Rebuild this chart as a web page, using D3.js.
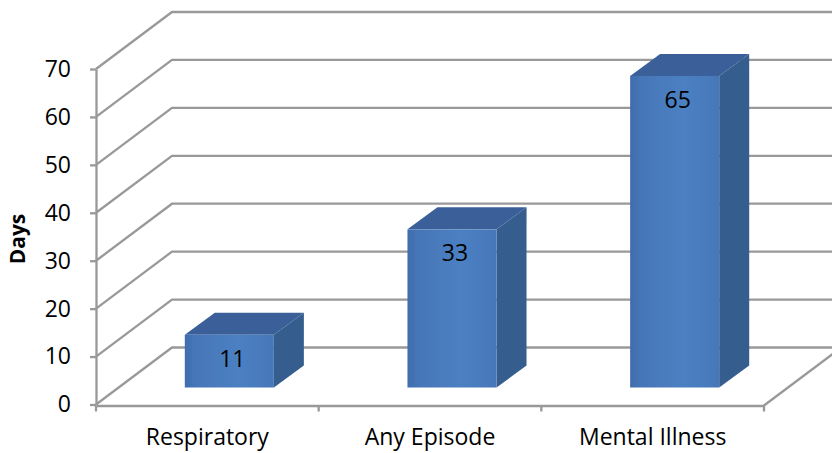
<!DOCTYPE html>
<html>
<head>
<meta charset="utf-8">
<script src="https://cdn.jsdelivr.net/npm/d3@7"></script>
<style>
  html, body { margin: 0; padding: 0; background: #fff; }
  svg { display: block; }
  text { font-family: "Open Sans", Lato, sans-serif; fill: #000; }
</style>
</head>
<body>
<script>
const categories = ["Respiratory", "Any Episode", "Mental Illness"];
const days = [11, 33, 65];
const yTicks = [0, 10, 20, 30, 40, 50, 60, 70];

const width = 832, height = 453;
const wallDx = 76, wallDy = -57;     // shift from the front plane to the back wall
const barInsetDx = 22, barInsetDy = -17;
const barDepthDx = 30, barDepthDy = -22;

const svg = d3.select("body").append("svg")
  .attr("width", width)
  .attr("height", height);

const x = d3.scaleBand().domain(categories).range([96, 764]);
const y = d3.scaleLinear().domain([0, 70]).range([404.5, 69]);
const barW = x.bandwidth() * 0.4;

const defs = svg.append("defs");
defs.append("filter").attr("id", "soft")
  .append("feGaussianBlur").attr("stdDeviation", 0.6);

const frontGrad = defs.append("linearGradient").attr("id", "front")
  .attr("x1", 0).attr("x2", 1).attr("y1", 0).attr("y2", 0);
frontGrad.append("stop").attr("offset", "0%").attr("stop-color", "#3f6dac");
frontGrad.append("stop").attr("offset", "12%").attr("stop-color", "#4676b8");
frontGrad.append("stop").attr("offset", "60%").attr("stop-color", "#4b80c2");
frontGrad.append("stop").attr("offset", "100%").attr("stop-color", "#4677b9");

// walls and floor
const grid = svg.append("g")
  .attr("fill", "none")
  .attr("stroke", "#999")
  .attr("stroke-width", 2.3)
  .attr("filter", "url(#soft)");

grid.selectAll("path.wall")
  .data(yTicks)
  .enter().append("path")
  .attr("class", "wall")
  .attr("d", d => `M96,${y(d)}L${96 + wallDx},${y(d) + wallDy}H${width}`);

grid.append("path")
  .attr("d", `M${x.range()[1]},${y(0) + 1}L${x.range()[1] + wallDx},${y(0) + 1 + wallDy}`);

// axes
const yAxis = svg.append("g")
  .attr("transform", "translate(96,0)")
  .call(d3.axisLeft(y).tickValues(yTicks).tickSize(6).tickSizeOuter(0).tickPadding(19));
yAxis.selectAll("text").style("font-size", "23px");

const xAxis = svg.append("g")
  .attr("transform", `translate(0,${y(0) + 1})`)
  .call(d3.axisBottom(x).tickSize(0).tickPadding(23));
xAxis.selectAll("text").style("font-size", "23px");

xAxis.selectAll("line.edge")
  .data(d3.range(categories.length + 1))
  .enter().append("line")
  .attr("class", "edge")
  .attr("x1", i => x.range()[0] + i * x.step())
  .attr("x2", i => x.range()[0] + i * x.step())
  .attr("y1", 0)
  .attr("y2", 6);

svg.selectAll(".domain, .tick line, .edge")
  .attr("stroke", "#999")
  .attr("stroke-width", 2.3);

svg.append("text")
  .attr("transform", "translate(25,239) rotate(-90)")
  .attr("text-anchor", "middle")
  .style("font-size", "21px")
  .style("font-weight", "bold")
  .text("Days");

// bars
const rows = categories.map((c, i) => ({ name: c, value: days[i] }));
const barLeft = d => x(d.name) + (x.bandwidth() - barW) / 2 + barInsetDx;
const barTop = d => y(d.value) + barInsetDy;
const barBase = y(0) + barInsetDy;

const bar = svg.append("g").selectAll("g")
  .data(rows)
  .enter().append("g");

const solid = bar.append("g").attr("filter", "url(#soft)");

solid.append("path")
  .attr("fill", "#3a6199")
  .attr("d", d => {
    const l = barLeft(d), t = barTop(d);
    return `M${l},${t}l${barDepthDx},${barDepthDy}h${barW}l${-barDepthDx},${-barDepthDy}z`;
  });

solid.append("path")
  .attr("fill", "#365d8e")
  .attr("d", d => {
    const r = barLeft(d) + barW, t = barTop(d);
    return `M${r},${t}l${barDepthDx},${barDepthDy}V${barBase + barDepthDy}L${r},${barBase}z`;
  });

solid.append("rect")
  .attr("fill", "url(#front)")
  .attr("x", barLeft)
  .attr("y", barTop)
  .attr("width", barW)
  .attr("height", d => barBase - barTop(d));

bar.append("text")
  .attr("x", d => barLeft(d) + barW / 2 + 3)
  .attr("y", d => barTop(d) + 32)
  .attr("text-anchor", "middle")
  .style("font-size", "23px")
  .text(d => d.value);
</script>
</body>
</html>
